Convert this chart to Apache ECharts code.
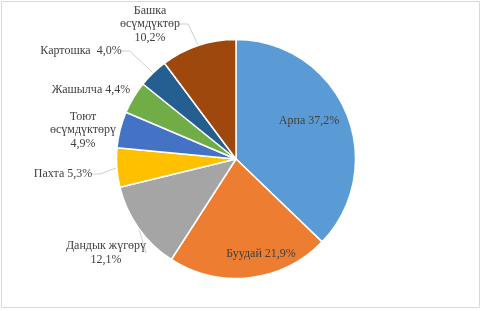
<!DOCTYPE html>
<html><head><meta charset="utf-8">
<script src="https://cdn.jsdelivr.net/npm/echarts@6/dist/echarts.min.js"></script>
<style>html,body{margin:0;padding:0;background:#fff}#c{width:482px;height:311px}</style>
</head><body><div id="c"></div>
<script>
const categories = ['Арпа', 'Буудай', 'Дандык жүгөрү', 'Пахта', 'Тоют\nөсүмдүктөрү', 'Жашылча', 'Картошка ', 'Башка\nөсүмдүктөр'];
const values = [37.2, 21.9, 12.1, 5.3, 4.9, 4.4, 4.0, 10.2];
const colors = ['#5B9BD5', '#ED7D31', '#A5A5A5', '#FFC000', '#4472C4', '#70AD47', '#255E91', '#9E480E'];
const labelSep = [' ', ' ', '\n', ' ', '\n', ' ', ' ', '\n'];
const labelCenters = [[309,121],[261,254],[106,253],[63,174],[83,130],[91,90],[81,51],[150,24]];
const showLine = [false,false,true,true,false,false,true,true];

const chart = echarts.init(document.getElementById('c'));
const fmt = v => v.toFixed(1).replace('.', ',') + '%';
chart.setOption({
  animation: false,
  graphic: [{type:'rect', shape:{x:1.5,y:1.5,width:478,height:306}, style:{fill:'none', stroke:'#d9d9d9', lineWidth:1}}],
  series: [{
    type: 'pie',
    center: [236, 159],
    radius: 119.5,
    startAngle: 90,
    clockwise: true,
    data: categories.map((n, i) => ({
      name: n, value: values[i],
      itemStyle: {color: colors[i]},
      labelLine: {show: showLine[i]}
    })),
    itemStyle: {borderColor: '#fff', borderWidth: 1.5},
    label: {
      show: true,
      position: 'outside',
      fontFamily: 'Liberation Serif',
      fontSize: 12,
      lineHeight: 13.5,
      color: '#404040',
      align: 'center',
      formatter: p => p.name + labelSep[p.dataIndex] + fmt(p.value)
    },
    labelLine: {lineStyle: {color: '#bfbfbf', width: 0.75}, length: 8, length2: 8},
    labelLayout: p => ({
      x: labelCenters[p.dataIndex][0],
      y: labelCenters[p.dataIndex][1],
      align: 'center',
      verticalAlign: 'middle'
    })
  }]
});
</script></body></html>
